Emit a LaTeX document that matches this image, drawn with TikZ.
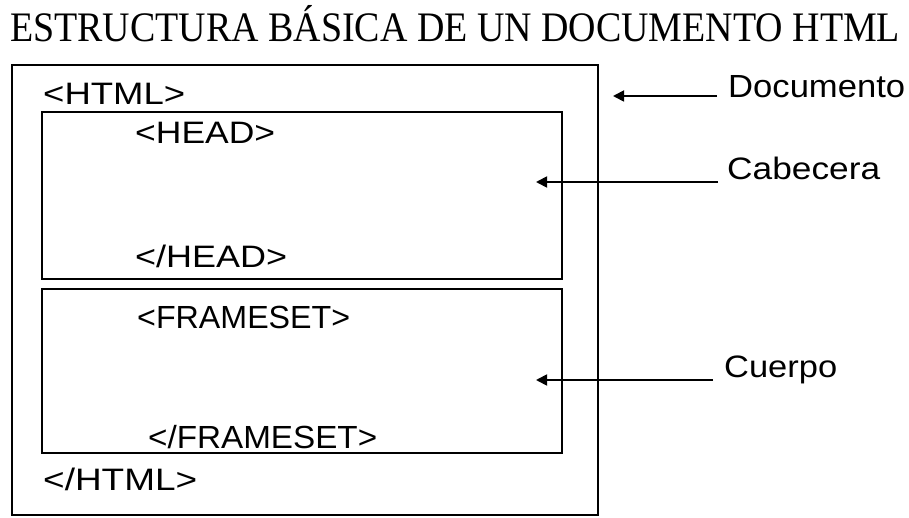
\documentclass[tikz,border=0pt]{standalone}
\usepackage{fontspec}
\setmainfont{Liberation Serif}
\newfontfamily\lblfont{Liberation Sans}
\usetikzlibrary{arrows.meta}
\newcommand{\fitw}[3]{\resizebox{#1pt}{\height}{\fontsize{#2}{#2}\selectfont #3}}
\tikzset{
  boxst/.style={draw, line width=2pt, rectangle, inner sep=0pt},
  txt/.style={anchor=base west, inner sep=0pt, font=\lblfont},
  arr/.style={line width=1.8pt, -{Triangle[length=11pt,width=11pt]}}
}
\begin{document}
\begin{tikzpicture}[x=1pt,y=-1pt]
\useasboundingbox (0,0) rectangle (909,518);
% title
\node[anchor=base west, inner sep=0pt] (title) at (10,42) {\fitw{890}{42}{ESTRUCTURA BÁSICA DE UN DOCUMENTO HTML}};
% boxes
\node[boxst, minimum width=586pt, minimum height=450pt] (doc) at (305,290) {};
\node[boxst, minimum width=520pt, minimum height=167pt] (head) at (302,195.5) {};
\node[boxst, minimum width=520pt, minimum height=164pt] (body) at (302,371) {};
% tags
\node[txt] (html) at (43,105) {\fitw{142}{31}{<HTML>}};
\node[txt] (hhead) at (135,144) {\fitw{140}{31}{<HEAD>}};
\node[txt] (ehead) at (135,268) {\fitw{152}{31}{</HEAD>}};
\node[txt] (fs) at (137,328) {\fitw{213}{32}{<FRAMESET>}};
\node[txt] (efs) at (148,448) {\fitw{229}{32}{</FRAMESET>}};
\node[txt] (ehtml) at (43,490) {\fitw{154}{31}{</HTML>}};
% labels
\node[txt] (ldoc) at (728,98) {\fitw{177}{32}{Documento}};
\node[txt] (lcab) at (727,180) {\fitw{153}{31}{Cabecera}};
\node[txt] (lcue) at (724,377) {\fitw{113}{31}{Cuerpo}};
% arrows
\coordinate (docS) at (717,96);
\coordinate (docT) at (613,96);
\coordinate (cabS) at (718,182);
\coordinate (cabT) at (536,182);
\coordinate (cueS) at (713,380);
\coordinate (cueT) at (536,380);
\draw[arr] (docS) -- (docT);
\draw[arr] (cabS) -- (cabT);
\draw[arr] (cueS) -- (cueT);
\end{tikzpicture}
\end{document}
